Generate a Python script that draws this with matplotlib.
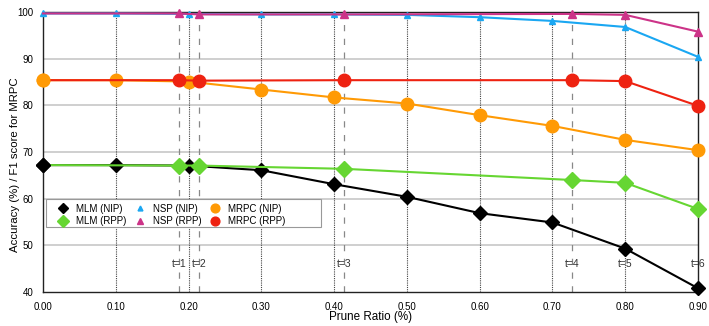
import numpy as np
import matplotlib.pyplot as plt
from matplotlib.patches import Rectangle

plt.rcParams['font.family'] = ['Liberation Sans', 'DejaVu Sans']

# prune ratios
x_nip = [0.0, 0.1, 0.2, 0.3, 0.4, 0.5, 0.6, 0.7, 0.8, 0.9]
x_rpp = [0.0, 0.187, 0.214, 0.414, 0.727, 0.8, 0.9]
t_labels = ["t=1", "t=2", "t=3", "t=4", "t=5", "t=6"]

mlm_nip = [67.2, 67.2, 67.1, 66.1, 63.1, 60.4, 56.9, 54.9, 49.3, 40.8]
nsp_nip = [99.7, 99.7, 99.6, 99.5, 99.5, 99.4, 98.9, 98.1, 96.8, 90.4]
mrpc_nip = [85.4, 85.4, 85.1, 83.4, 81.7, 80.4, 77.9, 75.6, 72.6, 70.4]

mlm_rpp = [67.2, 67.1, 67.1, 66.4, 64.0, 63.4, 57.8]
nsp_rpp = [99.7, 99.7, 99.5, 99.5, 99.6, 99.4, 95.8]
mrpc_rpp = [85.4, 85.4, 85.3, 85.4, 85.4, 85.2, 79.9]

fig = plt.figure(figsize=(7.09, 3.26), dpi=100)
ax = fig.add_axes([0.0607, 0.1043, 0.9238, 0.8587])

# grid
for y in range(50, 100, 10):
    ax.axhline(y, color="#cfcfcf", lw=1.4, zorder=0)
for xv in x_nip[1:-1]:
    ax.axvline(xv, color="#444444", lw=0.8, ls=(0, (1, 1)), zorder=1)
for xv in x_rpp[1:5]:
    ax.axvline(xv, color="#888888", lw=0.9, ls=(0, (5, 6)), zorder=1)

rpp_marks = list(range(1, len(x_rpp)))
ax.plot(x_nip, mlm_nip, color="black", lw=1.5, marker="D", ms=7.5, label="MLM (NIP)", zorder=3, clip_on=False)
ax.plot(x_nip, nsp_nip, color="#1aa7f2", lw=1.5, marker="^", ms=5, label="NSP (NIP)", zorder=3, clip_on=False)
ax.plot(x_nip, mrpc_nip, color="#ff9a05", lw=1.5, marker="o", ms=9, label="MRPC (NIP)", zorder=3, clip_on=False)
ax.plot(x_rpp, mlm_rpp, color="#66d632", lw=1.5, marker="D", ms=8.5, markevery=rpp_marks,
        label="MLM (RPP)", zorder=4, clip_on=False)
ax.plot(x_rpp, nsp_rpp, color="#cc3388", lw=1.5, marker="^", ms=6, markevery=rpp_marks,
        label="NSP (RPP)", zorder=4, clip_on=False)
ax.plot(x_rpp, mrpc_rpp, color="#ee2211", lw=1.5, marker="o", ms=9, markevery=rpp_marks,
        label="MRPC (RPP)", zorder=4, clip_on=False)
# first NIP markers sit on top of the shared start point
ax.plot(x_nip[:1], mlm_nip[:1], ls="", color="black", marker="D", ms=7.5, zorder=4.5, clip_on=False)
ax.plot(x_nip[:1], mrpc_nip[:1], ls="", color="#ff9a05", marker="o", ms=9, zorder=4.5, clip_on=False)

for xv, t in zip(x_rpp[1:], t_labels):
    ax.text(xv, 46.0, t, ha="center", va="center", fontsize=7.5, color="#333333", clip_on=False, zorder=2)

ax.set_xlim(0, 0.9)
ax.set_ylim(40, 100)
ax.set_xticks(x_nip)
ax.set_xticklabels(["%.2f" % v for v in x_nip], fontsize=7)
ax.set_yticks(range(40, 101, 10))
ax.set_yticklabels([str(v) for v in range(40, 101, 10)], fontsize=7)
ax.tick_params(axis="x", length=0, pad=7)
ax.tick_params(axis="y", length=0, pad=7)
ax.set_xlabel("Prune Ratio (%)", fontsize=8.4)
ax.xaxis.set_label_coords(0.5, -0.068)
fig.text(15 / 709, 1 - 165 / 326, "Accuracy (%) / F1 score for MRPC", fontsize=8.2,
         rotation=90, ha="center", va="center")
for s in ax.spines.values():
    s.set_color("#222222")
    s.set_linewidth(1.0)

# legend box
box = Rectangle((0.005, 0.232), 0.42, 0.1, transform=ax.transAxes, facecolor="white",
                edgecolor="#999999", lw=0.8, zorder=5)
ax.add_patch(box)

handles, labels = ax.get_legend_handles_labels()
order = [0, 3, 1, 4, 2, 5]
leg = ax.legend([handles[i] for i in order], [labels[i] for i in order], ncol=3,
                loc="center left", bbox_to_anchor=(0.0153, 0.276), fontsize=7,
                frameon=False, handlelength=2.0, handletextpad=0.34, columnspacing=0.4,
                borderpad=0, borderaxespad=0, labelspacing=0.25, markerscale=0.7)
for h in leg.legend_handles:
    h.set_linestyle("")
leg.set_zorder(6)

plt.savefig("out.png", dpi=100)
